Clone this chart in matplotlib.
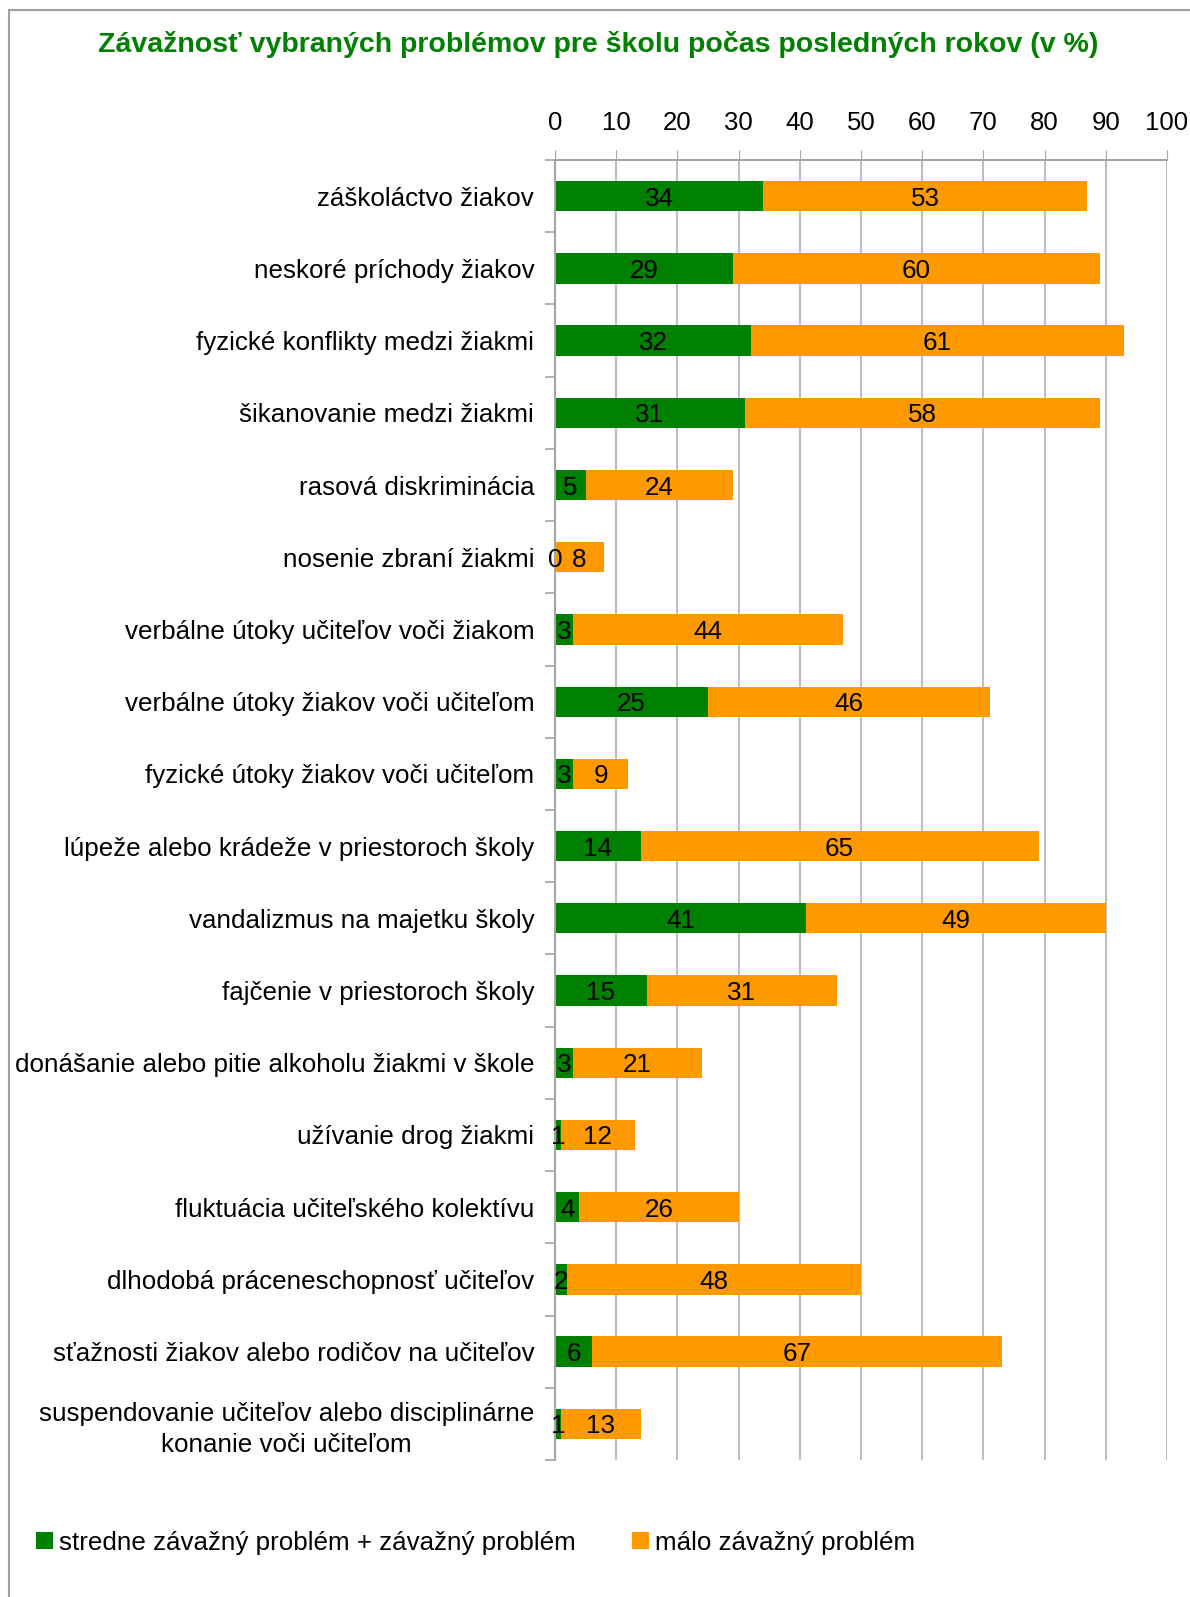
import numpy as np
import matplotlib.pyplot as plt
import matplotlib.patches as mpatches

plt.rcParams['font.family'] = ['Liberation Sans', 'DejaVu Sans']

categories = [
    'záškoláctvo žiakov',
    'neskoré príchody žiakov',
    'fyzické konflikty medzi žiakmi',
    'šikanovanie medzi žiakmi',
    'rasová diskriminácia',
    'nosenie zbraní žiakmi',
    'verbálne útoky učiteľov voči žiakom',
    'verbálne útoky žiakov voči učiteľom',
    'fyzické útoky žiakov voči učiteľom',
    'lúpeže alebo krádeže v priestoroch školy',
    'vandalizmus na majetku školy',
    'fajčenie v priestoroch školy',
    'donášanie alebo pitie alkoholu žiakmi v škole',
    'užívanie drog žiakmi',
    'fluktuácia učiteľského kolektívu',
    'dlhodobá práceneschopnosť učiteľov',
    'sťažnosti žiakov alebo rodičov na učiteľov',
    'suspendovanie učiteľov alebo disciplinárne\nkonanie voči učiteľom',
]
serious = [34, 29, 32, 31, 5, 0, 3, 25, 3, 14, 41, 15, 3, 1, 4, 2, 6, 1]
minor = [53, 60, 61, 58, 24, 8, 44, 46, 9, 65, 49, 31, 21, 12, 26, 48, 67, 13]
legend_labels = ['stredne závažný problém + závažný problém', 'málo závažný problém']
title = 'Závažnosť vybraných problémov pre školu počas posledných rokov (v %)'

green = '#008000'
orange = '#FF9900'
axis_gray = '#A6A6A6'
fs = 18.7

fig = plt.figure(figsize=(11.9, 15.97), dpi=100)
ax = fig.add_axes([0.4664, 0.0858, 0.5143, 0.814])

y = np.arange(len(categories))
b1 = ax.barh(y, serious, height=0.42, color=green, label=legend_labels[0])
b2 = ax.barh(y, minor, left=serious, height=0.42, color=orange, label=legend_labels[1])
for bars, vals in [(b1, serious), (b2, minor)]:
    txts = ax.bar_label(bars, labels=[str(v) for v in vals], label_type='center', fontsize=fs)
    for t in txts:
        t.set_va('center_baseline')

ax.set_xlim(0, 100)
ax.set_ylim(len(categories) - 0.5, -0.5)
ax.xaxis.tick_top()
ax.set_xticks(np.arange(0, 101, 10))
ax.tick_params(axis='x', labelsize=18.5, length=7, color=axis_gray, pad=11)
ax.grid(axis='x', color='#BFBFBF', linewidth=1.5)
ax.set_axisbelow(True)

ax.set_yticks(y)
ax.set_yticklabels(categories, fontsize=fs)
for t in ax.get_yticklabels():
    t.set_multialignment('center')
    t.set_linespacing(1.35)
ax.tick_params(axis='y', length=0, pad=15)
ax.set_yticks(np.arange(-0.5, len(categories), 1), minor=True)
ax.tick_params(axis='y', which='minor', length=7, color=axis_gray, width=1.2)

for s in ['right', 'bottom']:
    ax.spines[s].set_visible(False)
for s in ['left', 'top']:
    ax.spines[s].set_color(axis_gray)
    ax.spines[s].set_linewidth(1.5)

fig.text(0.503, 0.972, title, ha='center', va='center', fontsize=20.5,
         fontweight='bold', color=green)

fig.legend(handles=[b1, b2], labels=legend_labels, loc='center left',
           bbox_to_anchor=(0.011, 0.034), ncol=2, frameon=False, fontsize=fs,
           handlelength=0.65, handleheight=0.65, handletextpad=0.2,
           columnspacing=2.2)

fig.patches.append(mpatches.Rectangle((9 / 1190, -0.1), 1.2, 1.1 - 10 / 1597,
                                      transform=fig.transFigure, fill=False,
                                      edgecolor='#A0A0A0', linewidth=1.5))

fig.savefig('out.png', dpi=100)
